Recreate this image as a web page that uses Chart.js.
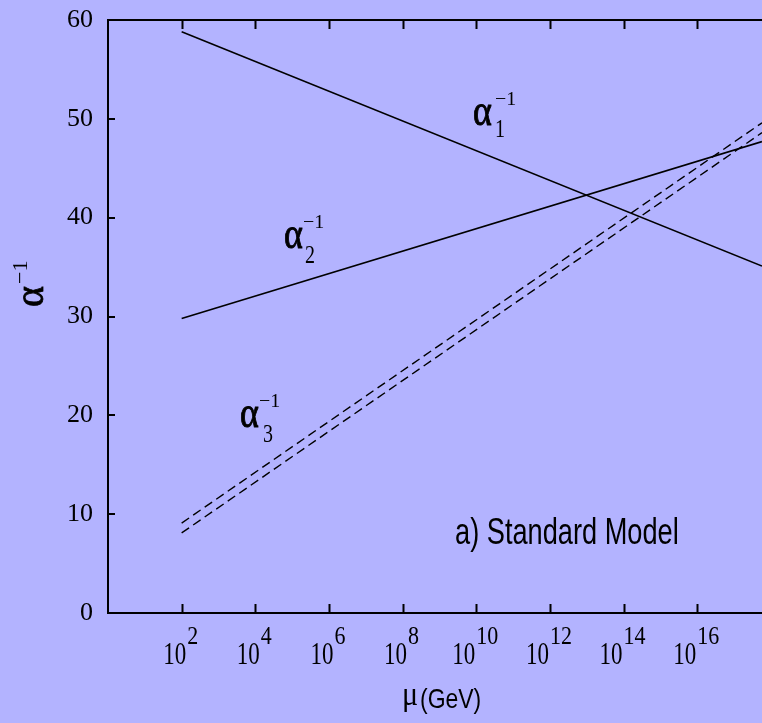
<!DOCTYPE html>
<html>
<head>
<meta charset="utf-8">
<script src="https://cdn.jsdelivr.net/npm/chart.js@4.4.1/dist/chart.umd.min.js"></script>
<style>
  html, body { margin: 0; padding: 0; background: #b3b3ff; overflow: hidden; }
  #wrap { width: 762px; height: 723px; }
</style>
</head>
<body>
<div id="wrap"><canvas id="c" width="762" height="723"></canvas></div>
<script>
// ---- data (x values are log10 of mu in GeV) ----
const logMu = [2, 17.76];
const alpha1Inv = [58.8, 35.1];
const alpha2Inv = [29.8, 47.7];
const alpha3InvUpper = [9.1, 49.6];
const alpha3InvLower = [8.1, 48.6];
const xTickExponents = [2, 4, 6, 8, 10, 12, 14, 16];
const yTickValues = [0, 10, 20, 30, 40, 50, 60];
const xMin = 0, xMax = 17.76, yMin = 0, yMax = 60;

const BG = '#b3b3ff';
const pts = (ys) => logMu.map((x, i) => ({ x: x, y: ys[i] }));

function txt(ctx, s, x, y, font, sy, sx, bold) {
  ctx.save();
  ctx.translate(x, y);
  ctx.scale(sx || 1, sy || 1);
  ctx.font = font;
  ctx.textAlign = 'left';
  ctx.textBaseline = 'alphabetic';
  ctx.fillStyle = '#000';
  ctx.fillText(s, 0, 0);
  if (bold) {
    ctx.strokeStyle = '#000';
    ctx.lineWidth = bold;
    ctx.strokeText(s, 0, 0);
  }
  ctx.restore();
}

const decor = {
  id: 'decor',
  beforeDraw(chart) {
    const ctx = chart.ctx;
    ctx.save();
    ctx.fillStyle = BG;
    ctx.fillRect(0, 0, chart.width, chart.height);
    ctx.restore();
  },
  afterDraw(chart) {
    const ctx = chart.ctx;
    const a = chart.chartArea;
    const xs = chart.scales.x, ys = chart.scales.y;
    ctx.save();
    ctx.strokeStyle = '#000';
    ctx.lineWidth = 2;
    // top frame line
    ctx.beginPath();
    ctx.moveTo(a.left, a.top);
    ctx.lineTo(a.right, a.top);
    ctx.stroke();
    // inward ticks x (bottom and top)
    xTickExponents.forEach(e => {
      const px = Math.round(xs.getPixelForValue(e)) + 0.5;
      ctx.beginPath();
      ctx.moveTo(px, a.bottom);
      ctx.lineTo(px, a.bottom - 9);
      ctx.moveTo(px, a.top);
      ctx.lineTo(px, a.top + 9);
      ctx.stroke();
    });
    // inward ticks y
    yTickValues.forEach(v => {
      const py = Math.round(ys.getPixelForValue(v));
      ctx.beginPath();
      ctx.moveTo(a.left, py);
      ctx.lineTo(a.left + 7, py);
      ctx.stroke();
    });
    ctx.restore();

    // x tick labels 10^n
    const baseFont = '23px "Liberation Serif"';
    const expFont = '22px "Liberation Serif"';
    xTickExponents.forEach(e => {
      const px = xs.getPixelForValue(e);
      ctx.font = baseFont;
      const bw = ctx.measureText('10').width;
      ctx.font = expFont;
      const ew = ctx.measureText(String(e)).width;
      const w = bw + 1 + ew;
      const x0 = px - 1 - w / 2;
      txt(ctx, '10', x0, 664, baseFont, 1.35);
      txt(ctx, String(e), x0 + bw + 1, 644, expFont, 1.15);
    });

    // curve labels
    const aF = '36px "Liberation Serif"';
    const sF = '20px "Liberation Serif"';
    const pF = '20px "Liberation Serif"';
    // alpha_1^-1
    txt(ctx, 'α', 473, 125, aF, 1.25, 1, 0.8);
    txt(ctx, '1', 495, 137, sF, 1.25);
    txt(ctx, '−1', 495, 105, pF, 0.95);
    // alpha_2^-1
    txt(ctx, 'α', 284, 248, aF, 1.25, 1, 0.8);
    txt(ctx, '2', 305, 263, sF, 1.25);
    txt(ctx, '−1', 303, 228, pF, 0.95);
    // alpha_3^-1
    txt(ctx, 'α', 240, 427, aF, 1.25, 1, 0.8);
    txt(ctx, '3', 263, 442, sF, 1.25);
    txt(ctx, '−1', 259, 407, pF, 0.95);

    // panel label (condensed sans)
    txt(ctx, 'a) Standard Model', 455, 544, '34px "Liberation Sans"', 1.07, 0.8);

    // x axis title
    txt(ctx, 'μ', 402, 705, '30px "Liberation Serif"', 1.1);
    txt(ctx, '(GeV)', 420, 708, '28px "Liberation Sans"', 1.0, 0.82);

    // y axis title (rotated)
    ctx.save();
    ctx.translate(43, 307);
    ctx.rotate(-Math.PI / 2);
    ctx.fillStyle = '#000';
    ctx.strokeStyle = '#000';
    ctx.lineWidth = 0.8;
    ctx.textBaseline = 'alphabetic';
    ctx.textAlign = 'left';
    ctx.font = '40px "Liberation Serif"';
    ctx.fillText('α', 0, 0);
    ctx.strokeText('α', 0, 0);
    ctx.font = '22px "Liberation Serif"';
    ctx.fillText('−1', 23, -16);
    ctx.restore();
  }
};

const solid = { borderColor: '#000', borderWidth: 1.6, pointRadius: 0, fill: false, tension: 0 };
const dashed = { borderColor: '#000', borderWidth: 1.4, borderDash: [9, 5], pointRadius: 0, fill: false, tension: 0 };

new Chart(document.getElementById('c'), {
  type: 'line',
  data: {
    datasets: [
      Object.assign({ label: 'alpha1^-1', data: pts(alpha1Inv) }, solid),
      Object.assign({ label: 'alpha2^-1', data: pts(alpha2Inv) }, solid),
      Object.assign({ label: 'alpha3^-1 (upper)', data: pts(alpha3InvUpper) }, dashed),
      Object.assign({ label: 'alpha3^-1 (lower)', data: pts(alpha3InvLower) }, dashed)
    ]
  },
  options: {
    responsive: false,
    animation: false,
    devicePixelRatio: 1,
    events: [],
    layout: { padding: { left: 0, top: 20, right: 0, bottom: 0 } },
    plugins: { legend: { display: false }, tooltip: { enabled: false } },
    scales: {
      x: {
        type: 'linear',
        min: xMin, max: xMax,
        afterBuildTicks: (s) => { s.ticks = xTickExponents.map(v => ({ value: v })); },
        afterFit: (s) => { s.height = 110; s.paddingLeft = 0; s.paddingRight = 0; },
        grid: { display: false, drawTicks: false },
        border: { display: true, color: '#000', width: 2 },
        ticks: { display: false }
      },
      y: {
        type: 'linear',
        min: yMin, max: yMax,
        afterBuildTicks: (s) => { s.ticks = yTickValues.map(v => ({ value: v })); },
        afterFit: (s) => { s.width = 108; s.paddingTop = 0; s.paddingBottom = 0; },
        grid: { display: false, drawTicks: false },
        border: { display: true, color: '#000', width: 2 },
        ticks: {
          color: '#000',
          padding: 15,
          font: { family: 'Liberation Serif', size: 26 },
          callback: (v) => String(v)
        }
      }
    }
  },
  plugins: [decor]
});
</script>
</body>
</html>
